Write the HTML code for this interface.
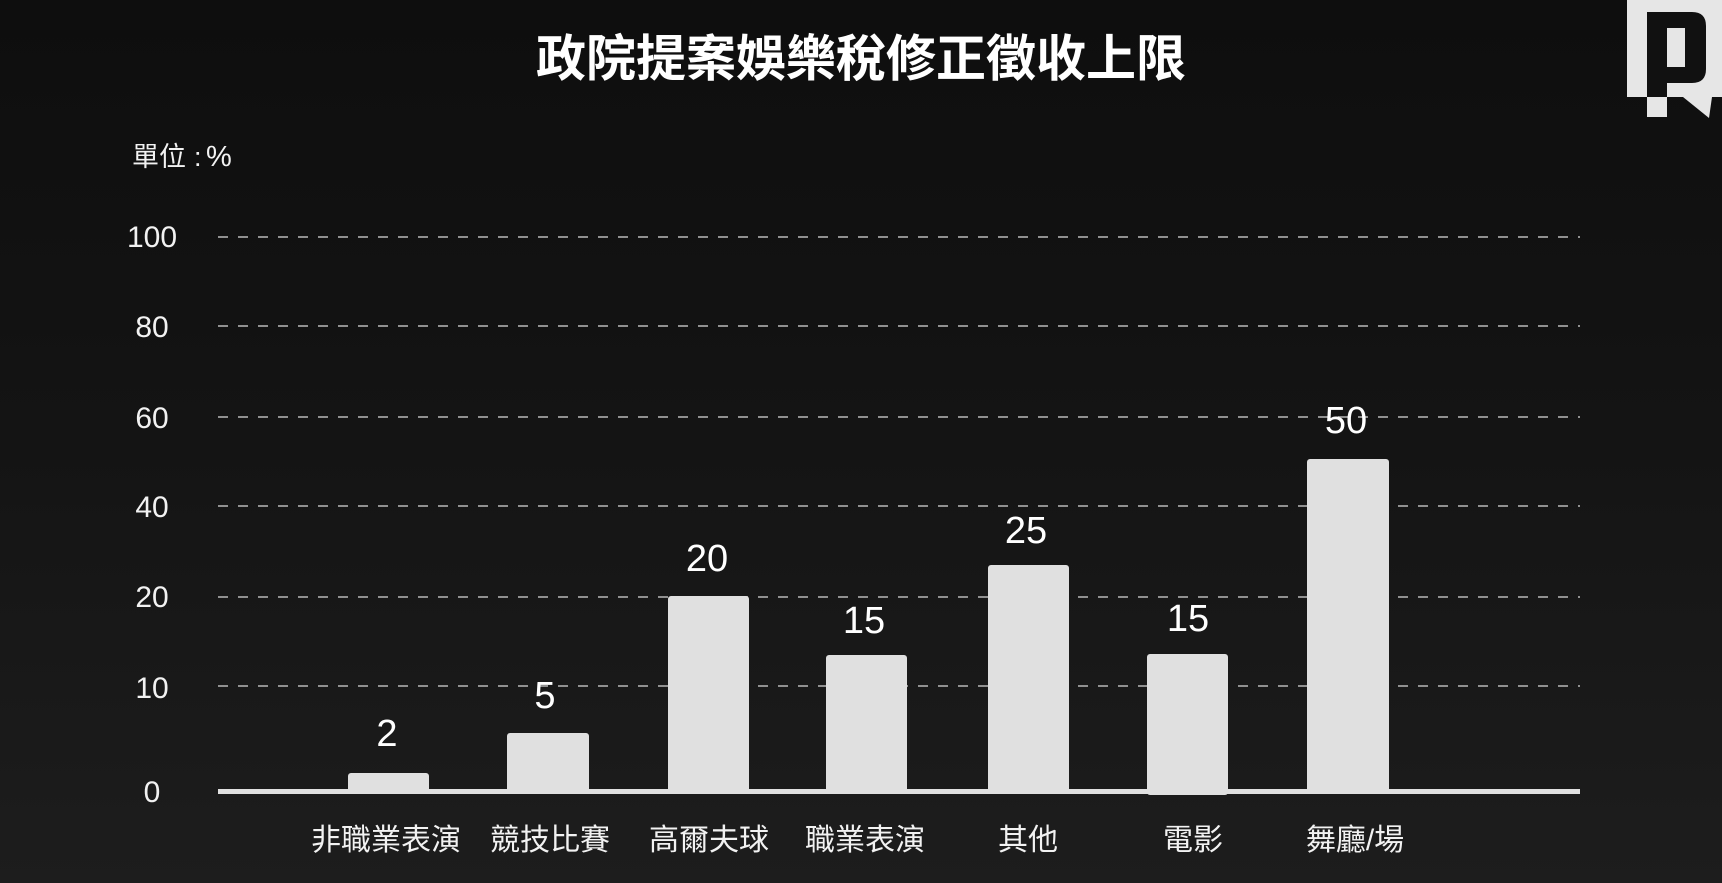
<!DOCTYPE html>
<html>
<head>
<meta charset="utf-8">
<style>
  html,body{margin:0;padding:0;background:#121212;}
  svg{display:block;}
  text{font-family:"Liberation Sans","Noto Sans CJK TC",sans-serif;}
</style>
</head>
<body>
<svg width="1722" height="883" viewBox="0 0 1722 883" xmlns="http://www.w3.org/2000/svg">
  <defs>
    <linearGradient id="bg" x1="0" y1="0" x2="0" y2="1">
      <stop offset="0" stop-color="#0e0e0e"/>
      <stop offset="0.5" stop-color="#141414"/>
      <stop offset="1" stop-color="#1d1d1d"/>
    </linearGradient>
  </defs>
  <rect x="0" y="0" width="1722" height="883" fill="url(#bg)"/>

  <!-- Title -->
  <text x="861" y="76" font-size="50" font-weight="700" fill="#ffffff" text-anchor="middle" style="font-family:'Liberation Sans','Noto Sans CJK TC',sans-serif;">政院提案娛樂稅修正徵收上限</text>

  <!-- Unit -->
  <text y="166" font-size="27" fill="#f2f2f2"><tspan x="132">單位</tspan><tspan x="194">:</tspan><tspan x="206" font-size="29">%</tspan></text>

  <!-- Gridlines -->
  <g stroke="#909090" stroke-width="2" stroke-dasharray="10 10">
    <line x1="218" y1="237" x2="1580" y2="237"/>
    <line x1="218" y1="326" x2="1580" y2="326"/>
    <line x1="218" y1="417" x2="1580" y2="417"/>
    <line x1="218" y1="506" x2="1580" y2="506"/>
    <line x1="218" y1="597" x2="1580" y2="597"/>
    <line x1="218" y1="686" x2="1580" y2="686"/>
  </g>

  <!-- Y tick labels -->
  <g font-size="30" fill="#f2f2f2" text-anchor="middle">
    <text x="152" y="247">100</text>
    <text x="152" y="337">80</text>
    <text x="152" y="428">60</text>
    <text x="152" y="517">40</text>
    <text x="152" y="607">20</text>
    <text x="152" y="698">10</text>
    <text x="152" y="802">0</text>
  </g>

  <!-- Baseline -->
  <rect x="218" y="789" width="1362" height="5" fill="#e0e0e0"/>

  <!-- Bars -->
  <g fill="#e0e0e0">
    <rect x="348" y="773" width="81" height="21" rx="3"/>
    <rect x="507" y="733" width="82" height="61" rx="3"/>
    <rect x="668" y="596" width="81" height="198" rx="3"/>
    <rect x="826" y="655" width="81" height="139" rx="3"/>
    <rect x="988" y="565" width="81" height="229" rx="3"/>
    <rect x="1147" y="654" width="81" height="141" rx="3"/>
    <rect x="1307" y="459" width="82" height="335" rx="3"/>
  </g>

  <!-- Value labels -->
  <g font-size="38" fill="#ffffff" text-anchor="middle">
    <text x="387" y="746">2</text>
    <text x="545" y="708">5</text>
    <text x="707" y="571">20</text>
    <text x="864" y="633">15</text>
    <text x="1026" y="543">25</text>
    <text x="1188" y="631">15</text>
    <text x="1346" y="433">50</text>
  </g>

  <!-- Category labels -->
  <g font-size="30" fill="#f2f2f2" text-anchor="middle">
    <text x="386" y="850">非職業表演</text>
    <text x="550" y="850">競技比賽</text>
    <text x="709" y="850">高爾夫球</text>
    <text x="865" y="850">職業表演</text>
    <text x="1028" y="850">其他</text>
    <text x="1193" y="850">電影</text>
    <text x="1355" y="850">舞廳/場</text>
  </g>

  <!-- Logo -->
  <rect x="1627" y="0" width="95" height="97" fill="#e6e6e6"/>
  <path d="M1647,12 H1692 Q1706,12 1706,26 V69 Q1706,83 1692,83 H1667 V97 H1647 Z" fill="#111111"/>
  <rect x="1667" y="28" width="18" height="39" fill="#e6e6e6"/>
  <rect x="1647" y="97" width="20" height="20" fill="#e6e6e6"/>
  <polygon points="1683,97 1712,97 1709,118" fill="#e6e6e6"/>
</svg>
</body>
</html>
